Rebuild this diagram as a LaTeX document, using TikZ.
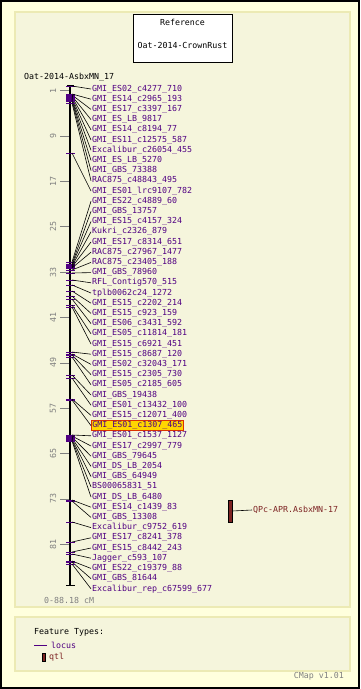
\documentclass[tikz,border=0pt]{standalone}
\usepackage{fontspec}
\setmonofont{DejaVu Sans Mono}
\definecolor{outerbg}{RGB}{255,255,221}
\definecolor{panelbg}{RGB}{245,245,220}
\definecolor{panelline}{RGB}{236,234,180}
\definecolor{locus}{RGB}{80,0,130}
\definecolor{qtlc}{RGB}{125,35,35}
\definecolor{scalec}{RGB}{128,128,128}
\definecolor{hlfill}{RGB}{255,214,0}
\definecolor{hlline}{RGB}{220,50,0}
\tikzset{
  lbl/.style={anchor=west, inner sep=1pt, text=locus},
  lab34/.style={fill=hlfill, draw=hlline, line width=0.8pt},
  conn/.style={black, line width=0.6pt},
  panel/.style={fill=panelbg, draw=panelline, line width=1.2pt}
}
\begin{document}
\begin{tikzpicture}[x=1pt, y=-1pt, font=\ttfamily\fontsize{8.3}{9}\selectfont]
\useasboundingbox (0,0) rectangle (360,689);
\fill[outerbg] (0,0) rectangle (360,689);
\draw[line width=2pt] (1,1) rectangle (359,688);
% map panel and legend panel
\draw[panel] (15,12) rectangle (350,607);
\draw[panel] (15,617) rectangle (350,671);
% reference box
\node[draw, fill=white, line width=0.8pt, minimum width=99, minimum height=48] (refbox) at (182.5,38) {};
\node (reftitle) at (182.5,22) {Reference};
\node (refname) at (182.5,45) {Oat-2014-CrownRust};
\node[anchor=west, inner sep=0pt] (mapname) at (24,77) {Oat-2014-AsbxMN\_17};
% scale ticks
\foreach \c in {1,9,17,25,33,41,49,57,65,73,81}
  {\draw[scalec, line width=0.6pt] (60,{85+\c*5.67}) -- (70,{85+\c*5.67});
   \node[scalec, rotate=90, inner sep=0pt] (cm\c) at (53,{85+\c*5.67}) {\c};
  };
% chromosome bar
\draw[line width=2pt] (70,85) -- (70,585);
\draw[line width=1pt] (67,85) -- (74,85);
\draw[line width=1pt] (66,585) -- (75,585);
% markers
\foreach \k/\m/\t in {1/86/GMI\_ES02\_c4277\_710, 2/94/GMI\_ES14\_c2965\_193,
    3/95/GMI\_ES17\_c3397\_167, 4/96/GMI\_ES\_LB\_9817, 5/97/GMI\_ES14\_c8194\_77,
    6/98/GMI\_ES11\_c12575\_587, 7/99/Excalibur\_c26054\_455, 8/100/GMI\_ES\_LB\_5270,
    9/101/GMI\_GBS\_73388, 10/103/RAC875\_c48843\_495, 11/153/GMI\_ES01\_lrc9107\_782,
    12/262/GMI\_ES22\_c4889\_60, 13/264/GMI\_GBS\_13757, 14/265/GMI\_ES15\_c4157\_324,
    15/266/Kukri\_c2326\_879, 16/267/GMI\_ES17\_c8314\_651, 17/268/RAC875\_c27967\_1477,
    18/270/RAC875\_c23405\_188, 19/273/GMI\_GBS\_78960, 20/280/RFL\_Contig570\_515,
    21/285/tplb0062c24\_1272, 22/291/GMI\_ES15\_c2202\_214, 23/296/GMI\_ES15\_c923\_159,
    24/299/GMI\_ES06\_c3431\_592, 25/305/GMI\_ES05\_c11814\_181, 26/307/GMI\_ES15\_c6921\_451,
    27/352/GMI\_ES15\_c8687\_120, 28/354/GMI\_ES02\_c32043\_171, 29/355/GMI\_ES15\_c2305\_730,
    30/357/GMI\_ES05\_c2185\_605, 31/375/GMI\_GBS\_19438, 32/378/GMI\_ES01\_c13432\_100,
    33/399/GMI\_ES15\_c12071\_400, 34/400/GMI\_ES01\_c1307\_465, 35/435/GMI\_ES01\_c1537\_1127,
    36/436/GMI\_ES17\_c2997\_779, 37/437/GMI\_GBS\_79645, 38/438/GMI\_DS\_LB\_2054,
    39/439/GMI\_GBS\_64949, 40/440/BS00065831\_51, 41/441/GMI\_DS\_LB\_6480,
    42/500/GMI\_ES14\_c1439\_83, 43/501/GMI\_GBS\_13308, 44/522/Excalibur\_c9752\_619,
    45/542/GMI\_ES17\_c8241\_378, 46/552/GMI\_ES15\_c8442\_243, 47/554/Jagger\_c593\_107,
    48/561/GMI\_ES22\_c19379\_88, 49/562/GMI\_GBS\_81644, 50/564/Excalibur\_rep\_c67599\_677}
  {\draw[locus, line width=0.8pt] (66,\m) -- (75,\m);
   \coordinate (mk\k) at (72,\m);
   \node[lbl, lab\k/.try] (lab\k) at (91,{89+(\k-1)*10.2}) {\t};
   \draw[conn] (mk\k) -- (lab\k.west);
  };
\node[anchor=west, scalec, inner sep=0pt] (range) at (44,600) {0-88.18 cM};
% qtl
\node[draw=black, fill=qtlc, line width=0.6pt, minimum width=4, minimum height=22, inner sep=0pt] (qtl) at (230,511) {};
\node[anchor=west, text=qtlc, inner sep=1pt] (qtllab) at (252,510) {QPc-APR.AsbxMN-17};
\draw[conn] (qtl.east) -- (qtllab.west);
% legend
\node[anchor=west, inner sep=0pt] (legtitle) at (34,632) {Feature Types:};
\coordinate (legline) at (34,645);
\node[anchor=west, text=locus, inner sep=0pt] (leglocus) at (51,645) {locus};
\draw[locus, line width=0.8pt] (legline) -- ([xshift=-4pt]leglocus.west);
\node[draw=black, fill=qtlc, line width=0.5pt, minimum width=3, minimum height=8, inner sep=0pt] (legqtlbar) at (44,657) {};
\node[anchor=west, text=qtlc, inner sep=0pt] (legqtl) at (49,657) {qtl};
\node[anchor=east, scalec, inner sep=0pt] (cmapver) at (344,676) {CMap v1.01};
\end{tikzpicture}
\end{document}
